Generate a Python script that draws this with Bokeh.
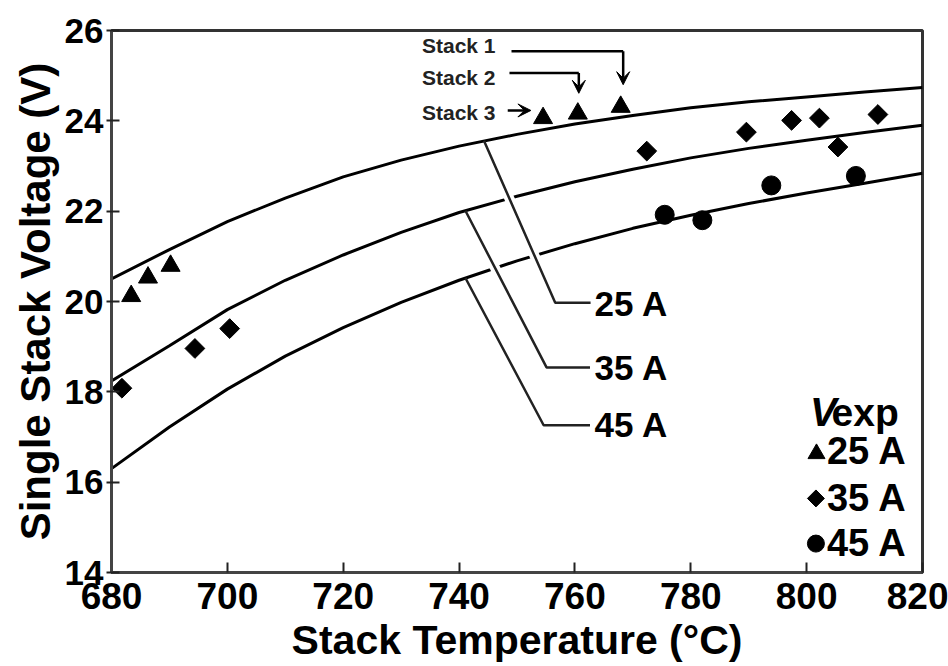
import math
from bokeh.plotting import figure
from bokeh.models import Range1d, FixedTicker, Arrow, VeeHead
from bokeh.core.properties import value
from bokeh.embed import file_html
from bokeh.resources import INLINE

# ---------------- data ----------------
temps = [680, 690, 700, 710, 720, 730, 740, 750, 760, 770, 780, 790, 800, 810, 820]
v_25a = [20.50, 21.15, 21.77, 22.29, 22.76, 23.13, 23.44, 23.70, 23.93, 24.12, 24.29, 24.42, 24.53, 24.64, 24.74]
v_35a = [18.24, 19.02, 19.82, 20.47, 21.03, 21.53, 21.97, 22.33, 22.65, 22.93, 23.18, 23.39, 23.57, 23.74, 23.90]
v_45a = [16.30, 17.22, 18.06, 18.79, 19.42, 19.98, 20.47, 20.90, 21.28, 21.62, 21.91, 22.17, 22.40, 22.62, 22.84]

exp_t_25a = [683.4, 686.3, 690.2, 754.5, 760.5, 767.9]
exp_v_25a = [20.12, 20.53, 20.79, 24.06, 24.16, 24.31]
exp_t_35a = [681.8, 694.4, 700.4, 772.4, 789.6, 797.4, 802.2, 805.4, 812.3]
exp_v_35a = [18.08, 18.96, 19.40, 23.33, 23.75, 24.01, 24.06, 23.42, 24.14]
exp_t_45a = [775.5, 782.0, 793.9, 808.5]
exp_v_45a = [21.92, 21.80, 22.57, 22.78]

x_ticks = [680, 700, 720, 740, 760, 780, 800, 820]
y_ticks = [14, 16, 18, 20, 22, 24, 26]

curve_labels = ["25 A", "35 A", "45 A"]
stack_labels = ["Stack 1", "Stack 2", "Stack 3"]
legend_title = ["V", "exp"]
legend_labels = ["25 A", "35 A", "45 A"]

# ---------------- figure ----------------
FONT = "Liberation Sans"
p = figure(width=948, height=666, x_range=Range1d(680, 820), y_range=Range1d(14, 26),
           output_backend="svg", toolbar_location=None,
           min_border_left=111, min_border_right=26, min_border_top=30, min_border_bottom=94)
p.background_fill_color = "white"
p.border_fill_color = "white"
p.xgrid.visible = False
p.ygrid.visible = False
p.outline_line_color = "#333333"
p.outline_line_width = 3
p.outline_line_alpha = 1.0

for ax in (p.xaxis[0], p.yaxis[0]):
    ax.axis_line_color = "#444444"
    ax.axis_line_width = 3
    ax.major_tick_line_color = "#222222"
    ax.major_tick_line_width = 2
    ax.minor_tick_line_color = None
    ax.major_label_text_font = FONT
    ax.major_label_text_font_style = "bold"
    ax.major_label_text_color = "black"
    ax.axis_label_text_font = FONT
    ax.axis_label_text_font_style = "bold"
    ax.axis_label_text_color = "black"

p.xaxis.ticker = FixedTicker(ticks=x_ticks)
p.yaxis.ticker = FixedTicker(ticks=y_ticks)
p.xaxis.major_tick_in = 10
p.xaxis.major_tick_out = 0
p.yaxis.major_tick_in = 8
p.yaxis.major_tick_out = 5

p.xaxis.major_label_text_font_size = "37px"
p.xaxis.major_label_standoff = 10
p.xaxis.axis_label = "Stack Temperature (°C)"
p.xaxis.axis_label_text_font_size = "41px"
p.xaxis.axis_label_standoff = 5

p.yaxis.major_label_text_font_size = "35px"
p.yaxis.major_label_standoff = 3
p.yaxis.axis_label = "Single Stack Voltage (V)"
p.yaxis.axis_label_text_font_size = "42px"
p.yaxis.axis_label_standoff = 3

# model curves
for vs in (v_25a, v_35a, v_45a):
    p.line(temps, vs, line_color="black", line_width=3)

# leader lines for curve labels
leaders = [
    ([744.3, 756.6, 762.7], [23.56, 19.97, 19.97]),
    ([741.1, 755.1, 762.6], [22.01, 18.54, 18.54]),
    ([741.1, 754.6, 762.6], [20.52, 17.26, 17.26]),
]
# white halos where leaders cross lower curves
for (xs, ys), use in zip(leaders, (True, True, False)):
    if use:
        f0, f1 = 0.12, 0.97
        hx = [xs[0] + f0 * (xs[1] - xs[0]), xs[0] + f1 * (xs[1] - xs[0])]
        hy = [ys[0] + f0 * (ys[1] - ys[0]), ys[0] + f1 * (ys[1] - ys[0])]
        p.line(hx, hy, line_color="white", line_width=10)
for xs, ys in leaders:
    p.line(xs, ys, line_color="#222222", line_width=2.5)

p.text(x=[763.4, 763.4, 763.4], y=[19.95, 18.53, 17.28], text=curve_labels,
       text_font=value(FONT), text_font_style="bold", text_font_size="35px",
       text_color="black", text_align="left", text_baseline="middle")

# stack annotations
p.text(x=[733.6, 733.6, 733.6], y=[25.67, 24.97, 24.19], text=stack_labels,
       text_font=value(FONT), text_font_style="bold", text_font_size="21px",
       text_color="#222222", text_align="left", text_baseline="middle")
p.line([749.05, 768.33], [25.54, 25.54], line_color="black", line_width=2.5)
p.line([748.7, 760.67], [25.06, 25.06], line_color="black", line_width=2.5)
for xs, ys, xe, ye in [(768.33, 25.54, 768.33, 24.80),
                       (760.67, 25.06, 760.67, 24.61),
                       (748.4, 24.23, 752.4, 24.23)]:
    p.add_layout(Arrow(x_start=xs, y_start=ys, x_end=xe, y_end=ye,
                       line_color="black", line_width=2.5,
                       end=VeeHead(size=13, fill_color="black", line_color="black", line_width=1)))

# experimental points
p.scatter(exp_t_25a, exp_v_25a, marker="triangle", size=19, fill_color="black", line_color="black")
p.scatter(exp_t_35a, exp_v_35a, marker="square", angle=math.pi / 4, size=14,
          fill_color="black", line_color="black")
p.scatter(exp_t_45a, exp_v_45a, marker="circle", size=19, fill_color="black", line_color="black")

# legend (manual)
p.text(x=[800.6], y=[17.55], text=[legend_title[0]], text_font=value(FONT),
       text_font_style="bold italic", text_font_size="40px", text_color="black",
       text_align="left", text_baseline="alphabetic")
p.text(x=[804.3], y=[17.55], text=[legend_title[1]], text_font=value(FONT),
       text_font_style="bold", text_font_size="39px", text_color="black",
       text_align="left", text_baseline="alphabetic")
p.scatter([801.7], [16.63], marker="triangle", size=17, fill_color="black", line_color="black")
p.scatter([801.6], [15.64], marker="square", angle=math.pi / 4, size=12,
          fill_color="black", line_color="black")
p.scatter([801.6], [14.64], marker="circle", size=17, fill_color="black", line_color="black")
p.text(x=[803.5, 803.5, 803.5], y=[16.68, 15.66, 14.66], text=legend_labels,
       text_font=value(FONT), text_font_style="bold", text_font_size="38px",
       text_color="black", text_align="left", text_baseline="middle")

open("out.html", "w").write(file_html(p, INLINE))
